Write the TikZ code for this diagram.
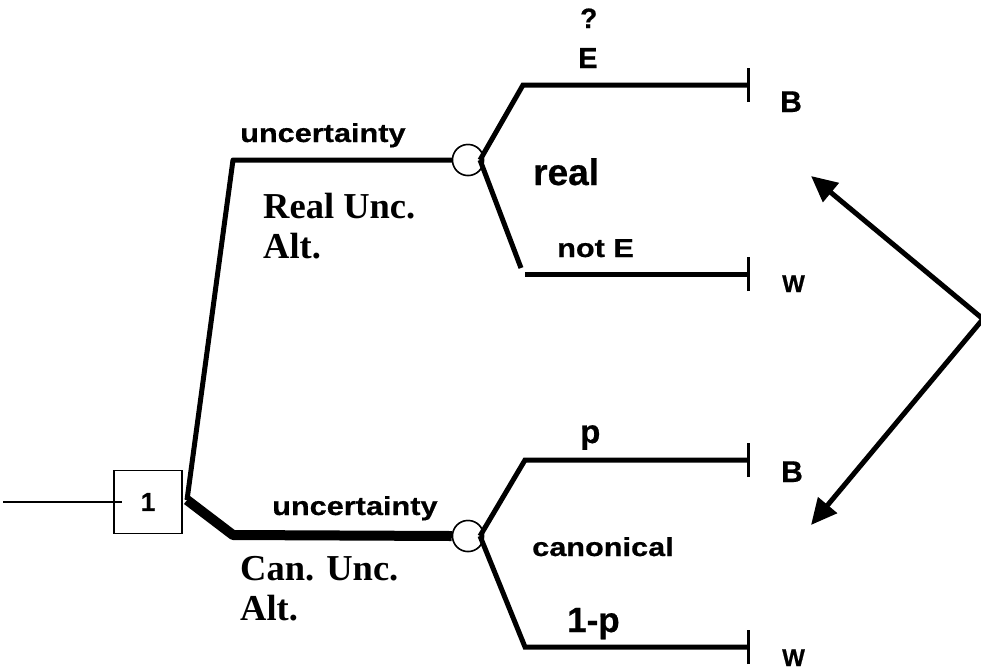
\documentclass[tikz,border=0pt]{standalone}
\usepackage{fontspec}
\setmainfont{Liberation Sans}[BoldFeatures={FakeBold=0.6}]
\newfontface\sansst{Liberation Sans Bold}[FakeStretch=1.18, FakeBold=0.6]
\newfontfamily\serifb{Liberation Serif}
\usetikzlibrary{arrows.meta}
\tikzset{
  lbl/.style={inner sep=0pt, anchor=base west, font=\bfseries},
  fs/.style={font=\bfseries\fontsize{#1}{#1}\selectfont},
  fst/.style={font=\sansst\fontsize{#1}{#1}\selectfont},
  fserif/.style={font=\serifb\bfseries\fontsize{#1}{#1}\selectfont},
  branch/.style={line width=5pt},
  heavy/.style={line width=10pt},
  chance/.style={circle, draw, line width=1.5pt, minimum size=31pt, inner sep=0pt, fill=white},
  tickmark/.style={line width=3pt},
  bigarrow/.style={line width=5pt, -{Triangle[length=26pt,width=24pt]}}
}
\begin{document}
\begin{tikzpicture}[x=1pt,y=-1pt]
\useasboundingbox (0,0) rectangle (981,670);

% decision node
\node[draw, line width=1.5pt, minimum width=68pt, minimum height=63pt, inner sep=0pt, fs=26] (dec) at (148,502) {1};
\coordinate (inL) at (3,502);
\coordinate (inR) at (122,502);
\draw[line width=1.5pt] (inL) -- (inR);

% corners
\coordinate (d0) at (187,500);
\coordinate (u0) at (233,160);
\coordinate (l0) at (233,535);

% chance nodes
\node[chance] (c1) at (468,160) {};
\node[chance] (c2) at (468,536) {};

\draw[branch, line join=round] (d0) -- (u0) -- (c1.west);
\draw[heavy, line join=round] (d0) -- (l0) -- (c2.west);
\node[chance] at (c1) {};
\node[chance] at (c2) {};

% upper chance branches
\coordinate (j1) at (480,160);
\coordinate (a1) at (523,85);
\coordinate (b1) at (521,268);
\coordinate (b1h) at (525,274);
\coordinate (t1) at (748,85);
\coordinate (t2) at (748,274);
\draw[branch, line join=miter] (j1) -- (a1) -- (t1);
\draw[branch] (j1) -- (b1);
\draw[branch] (b1h) -- (t2);

% lower chance branches
\coordinate (j2) at (480,536);
\coordinate (a2) at (525,460);
\coordinate (b2) at (525,647);
\coordinate (t3) at (748,460);
\coordinate (t4) at (748,647);
\draw[branch, line join=miter] (j2) -- (a2) -- (t3);
\draw[branch, line join=miter] (j2) -- (b2) -- (t4);

% terminal ticks
\foreach \t in {t1,t2,t3,t4}{
  \draw[tickmark] ([yshift=-17pt]\t) -- ([yshift=17pt]\t);
}

% labels
\node[lbl, fs=28] (q) at (580,28) {?};
\node[lbl, fs=29] (e) at (578,68) {E};
\node[lbl, fs=30] (B1) at (780,112) {B};
\node[lbl, fst=26] (unc1) at (240,142) {uncertainty};
\node[lbl, fserif=36.5] (rua) at (263,218) {Real Unc.};
\node[lbl, fserif=36.5] (alt1) at (263,258) {Alt.};
\node[lbl, fs=37] (real) at (533,185) {real};
\node[lbl, fst=26] (note) at (557,257) {not E};
\node[lbl, fs=24] (W1) at (782,292) {W};

\node[lbl, fs=33] (p) at (580,443) {p};
\node[lbl, fs=30] (B2) at (781,482) {B};
\node[lbl, fst=26] (unc2) at (272,515) {uncertainty};
\node[lbl, fserif=36.5] (cua) at (240,580) {Can. Unc.};
\node[lbl, fserif=36.5] (alt2) at (240,620) {Alt.};
\node[lbl, fst=26] (can) at (532,556) {canonical};
\node[lbl, fs=35] (omp) at (567,632) {1-p};
\node[lbl, fs=24] (W2) at (782,666) {W};

% comparison arrows
\coordinate (v) at (983,319);
\coordinate (tipU) at (811,176);
\coordinate (tipL) at (811,525);
\draw[bigarrow] (v) -- (tipU);
\draw[bigarrow] (v) -- (tipL);
\end{tikzpicture}
\end{document}
